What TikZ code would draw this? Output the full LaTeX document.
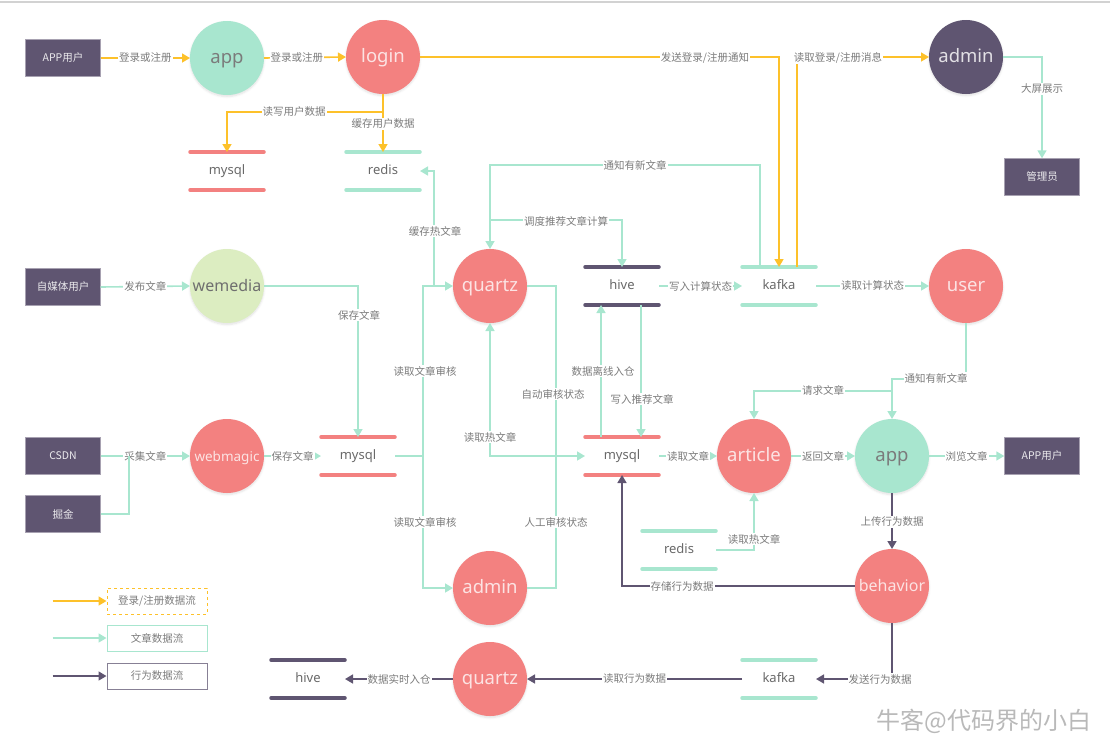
\documentclass[tikz,border=0pt]{standalone}
\usepackage{fontspec}
\setmainfont{Noto Sans CJK SC}
\newfontfamily\latina{Noto Sans}
\definecolor{flujoAmarillo}{HTML}{FDC12A}
\definecolor{flujoVerde}{HTML}{A8E6CF}
\definecolor{flujoMorado}{HTML}{5F5571}
\definecolor{nodoRojo}{HTML}{F38180}
\definecolor{nodoVerde}{HTML}{A8E6CF}
\definecolor{nodoLima}{HTML}{DCEDC1}
\definecolor{textoGris}{HTML}{7B7B7B}
\usetikzlibrary{
	arrows.meta,
	calc,
	shadows.blur
}
\tikzset{
	servicio/.style={
		circle,
		minimum size=74pt,
		inner sep=0pt,
		outer sep=0pt,
		fill=nodoRojo,
		text=white!78!nodoRojo,
		text height=13.5pt,
		text depth=3.5pt,
		font=\latina\fontsize{18.5}{20}\selectfont,
		blur shadow={shadow xshift=0pt, shadow yshift=-1.5pt, shadow opacity=12, shadow blur steps=6}
	},
	servicioVerde/.style={
		servicio,
		fill=nodoVerde,
		text=textoGris
	},
	usuario/.style={
		rectangle,
		minimum width=75pt,
		minimum height=37pt,
		fill=flujoMorado,
		draw=flujoMorado!55,
		text=white!88!flujoMorado,
		font=\fontsize{10.5}{12}\selectfont
	},
	almacen/.style={
		minimum width=74pt,
		minimum height=38pt,
		inner sep=0pt,
		outer sep=0pt,
		text height=9.5pt,
		text depth=2.5pt,
		text=textoGris!85!black,
		font=\latina\fontsize{13}{15}\selectfont
	},
	barra/.style={
		line width=3.5pt,
		line cap=round
	},
	etiqueta/.style={
		fill=white,
		inner sep=1pt,
		text=textoGris,
		font=\fontsize{10.5}{12}\selectfont
	},
	leyenda/.style={
		minimum width=100pt,
		minimum height=26pt,
		line width=1pt,
		text=textoGris,
		font=\fontsize{10.5}{12}\selectfont
	},
	lineaVerde/.style={
		line width=1.6pt,
		flujoVerde
	},
	flechaVerde/.style={
		lineaVerde,
		-{Triangle[length=8pt,width=9pt]}
	},
	flechaAmarilla/.style={
		-{Triangle[length=8pt,width=9pt]},
		line width=1.6pt,
		flujoAmarillo
	},
	flechaMorada/.style={
		-{Triangle[length=8pt,width=9pt]},
		line width=1.6pt,
		flujoMorado
	}
}
\begin{document}
\begin{tikzpicture}[x=1pt, y=-1pt]
	\useasboundingbox (0,0) rectangle (1110,745);
	\draw[gray!35, line width=1.5pt] (0,2) -- (1110,2);

	% nodos
	\node[usuario] (appUsuario) at (63,58) {APP用户};
	\node[servicioVerde] (appLogin) at (227,58) {app};
	\node[servicio] (login) at (383,57) {login};
	\node[servicio, fill=flujoMorado, text=white!82!flujoMorado] (adminPanel) at (966,57) {admin};
	\node[usuario] (gestor) at (1042,177) {管理员};
	\node[almacen] (mysqlUsuario) at (227,171) {mysql};
	\node[almacen] (redisUsuario) at (383,171) {redis};
	\node[usuario] (autor) at (63,287) {自媒体用户};
	\node[servicio, fill=nodoLima, text=textoGris!90!black, font=\latina\fontsize{16}{18}\selectfont] (wemedia) at (227,286) {wemedia};
	\node[usuario] (csdn) at (63,456) {CSDN};
	\node[usuario] (juejin) at (63,514) {掘金};
	\node[servicio, font=\latina\fontsize{13.5}{15}\selectfont] (webmagic) at (227,456) {webmagic};
	\node[almacen] (mysqlArticulo) at (358,456) {mysql};
	\node[servicio] (quartzCalculo) at (490,286) {quartz};
	\node[almacen] (hiveCalculo) at (622,286) {hive};
	\node[almacen] (kafkaCalculo) at (779,286) {kafka};
	\node[servicio] (user) at (966,286) {user};
	\node[servicio] (adminRevision) at (490,588) {admin};
	\node[almacen] (mysqlLectura) at (622,456) {mysql};
	\node[servicio] (article) at (754,456) {article};
	\node[servicioVerde] (appLectura) at (892,456) {app};
	\node[usuario] (appLector) at (1042,456) {APP用户};
	\node[almacen] (redisLectura) at (679,550) {redis};
	\node[servicio, font=\latina\fontsize{16}{18}\selectfont] (behavior) at (892,586) {behavior};
	\node[almacen] (kafkaConducta) at (779,679) {kafka};
	\node[servicio] (quartzConducta) at (490,679) {quartz};
	\node[almacen] (hiveConducta) at (308,679) {hive};

	\foreach \n/\c in {mysqlUsuario/nodoRojo, redisUsuario/flujoVerde, mysqlArticulo/nodoRojo, hiveCalculo/flujoMorado, kafkaCalculo/flujoVerde, mysqlLectura/nodoRojo, redisLectura/flujoVerde, kafkaConducta/flujoVerde, hiveConducta/flujoMorado}{
		\draw[barra, \c] (\n.north west) -- (\n.north east) (\n.south west) -- (\n.south east);
	}

	% flujo login
	\draw[flechaAmarilla] (appUsuario.east) -- node[etiqueta]{登录或注册} (appLogin.west);
	\draw[flechaAmarilla] (appLogin.east) -- node[etiqueta, pos=0.4]{登录或注册} (login.west);
	\draw[flechaAmarilla] (login.south) -- (login.south |- 0,112) -| (mysqlUsuario.north);
	\draw[flechaAmarilla] (login.south) -- (redisUsuario.north);
	\draw[flechaAmarilla] (login.east) -| (kafkaCalculo.north);
	\draw[flechaAmarilla] ($(kafkaCalculo.north)+(18,0)$) |- (adminPanel.west);
	\draw[flechaVerde] (adminPanel.east) -| (gestor.north);

	% flujo articulos
	\draw[flechaVerde] (autor.east) -- node[etiqueta]{发布文章} (wemedia.west);
	\draw[flechaVerde] (wemedia.east) -| (mysqlArticulo.north);
	\draw[flechaVerde] (csdn.east) -- node[etiqueta]{采集文章} (webmagic.west);
	\draw[lineaVerde] (juejin.east) -| ($(csdn.east)+(28,0)$);
	\draw[flechaVerde] (webmagic.east) -- node[etiqueta]{保存文章} (mysqlArticulo.west);
	\draw[lineaVerde] (mysqlArticulo.east) -- ++(28,0) coordinate (ramaMysql);
	\draw[flechaVerde] (ramaMysql) |- (quartzCalculo.west);
	\draw[flechaVerde] (ramaMysql) |- (adminRevision.west);
	\draw[flechaVerde] ($(quartzCalculo.west)+(-19,0)$) |- (redisUsuario.east);
	\draw[flechaVerde] ($(kafkaCalculo.north)+(-19,0)$) -- ++(0,-102) -| (quartzCalculo.north);
	\draw[flechaVerde] ($(quartzCalculo.north)+(0,-29)$) -| (hiveCalculo.north);
	\draw[flechaVerde] (hiveCalculo.east) -- node[etiqueta]{写入计算状态} (kafkaCalculo.west);
	\draw[flechaVerde] (kafkaCalculo.east) -- node[etiqueta]{读取计算状态} (user.west);
	\draw[lineaVerde] (quartzCalculo.east) -- ++(29,0) |- (adminRevision.east);
	\draw[flechaVerde, {Triangle[length=8pt,width=9pt]}-{Triangle[length=8pt,width=9pt]}] (quartzCalculo.south) |- (mysqlLectura.west);
	\draw[flechaVerde] ($(mysqlLectura.north)+(-21,0)$) -- ($(hiveCalculo.south)+(-21,0)$);
	\draw[flechaVerde] ($(hiveCalculo.south)+(19,0)$) -- ($(mysqlLectura.north)+(19,0)$);
	\draw[flechaVerde] (mysqlLectura.east) -- node[etiqueta]{读取文章} (article.west);
	\draw[flechaVerde] (article.east) -- node[etiqueta]{返回文章} (appLectura.west);
	\draw[flechaVerde] (appLectura.east) -- node[etiqueta]{浏览文章} (appLector.west);
	\draw[flechaVerde] (user.south) -- ++(0,56) -| (appLectura.north);
	\draw[flechaVerde] ($(appLectura.north)+(0,-28)$) -| (article.north);
	\draw[flechaVerde] (redisLectura.east) -| (article.south);

	% flujo conducta
	\draw[flechaMorada] (appLectura.south) -- (behavior.north);
	\draw[flechaMorada] (behavior.west) -| (mysqlLectura.south);
	\draw[flechaMorada] (behavior.south) |- (kafkaConducta.east);
	\draw[flechaMorada] (kafkaConducta.west) -- node[etiqueta]{读取行为数据} (quartzConducta.east);
	\draw[flechaMorada] (quartzConducta.west) -- node[etiqueta]{数据实时入仓} (hiveConducta.east);

	% etiquetas
	\node[etiqueta] at (294,112) {读写用户数据};
	\node[etiqueta] at (383,124) {缓存用户数据};
	\node[etiqueta] at (705,58) {发送登录/注册通知};
	\node[etiqueta] at (838,58) {读取登录/注册消息};
	\node[etiqueta] at (1042,89) {大屏展示};
	\node[etiqueta] at (635,165) {通知有新文章};
	\node[etiqueta] at (566,221) {调度推荐文章计算};
	\node[etiqueta] at (435,231) {缓存热文章};
	\node[etiqueta] at (359,315) {保存文章};
	\node[etiqueta] at (425,371) {读取文章审核};
	\node[etiqueta] at (425,522) {读取文章审核};
	\node[etiqueta] at (553,394) {自动审核状态};
	\node[etiqueta] at (556,522) {人工审核状态};
	\node[etiqueta] at (490,437) {读取热文章};
	\node[etiqueta] at (603,371) {数据离线入仓};
	\node[etiqueta] at (642,399) {写入推荐文章};
	\node[etiqueta] at (936,378) {通知有新文章};
	\node[etiqueta] at (823,390) {请求文章};
	\node[etiqueta] at (754,539) {读取热文章};
	\node[etiqueta] at (892,522) {上传行为数据};
	\node[etiqueta] at (682,587) {存储行为数据};
	\node[etiqueta] at (880,679) {发送行为数据};

	% leyenda
	\node[leyenda, draw=flujoAmarillo, dashed] (leyendaLogin) at (157,601) {登录/注册数据流};
	\node[leyenda, draw=flujoVerde] (leyendaArticulo) at (157,638) {文章数据流};
	\node[leyenda, draw=flujoMorado!75] (leyendaConducta) at (157,676) {行为数据流};
	\draw[flechaAmarilla] (leyendaLogin.west) ++(-54,0) -- (leyendaLogin.west);
	\draw[flechaVerde] (leyendaArticulo.west) ++(-54,0) -- (leyendaArticulo.west);
	\draw[flechaMorada] (leyendaConducta.west) ++(-54,0) -- (leyendaConducta.west);

	\node[text=gray!55, font=\fontsize{24}{26}\selectfont] (marca) at (984,721) {牛客@代码界的小白};
\end{tikzpicture}
\end{document}
